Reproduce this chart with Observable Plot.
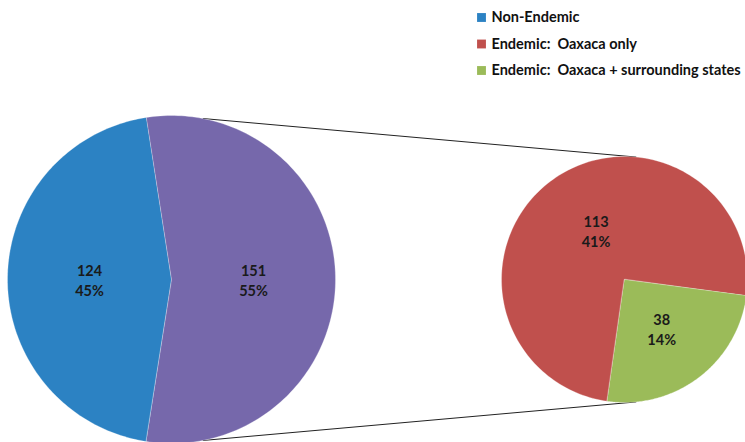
<!DOCTYPE html>
<html><head><meta charset="utf-8">
<script src="https://cdn.jsdelivr.net/npm/d3@7"></script>
<script src="https://cdn.jsdelivr.net/npm/@observablehq/plot@0.6"></script>
<style>html,body{margin:0;padding:0;background:#fff;} svg{display:block}</style>
</head><body><div id="chart"></div>
<script>
// ---- data ----
const mainCategories = ["Non-Endemic", "Endemic"];
const mainCounts = [124, 151];
const detailCategories = ["Endemic: Oaxaca only", "Endemic: Oaxaca + surrounding states"];
const detailCounts = [113, 38];
const legendKeys = ["Non-Endemic", "Endemic: Oaxaca only", "Endemic: Oaxaca + surrounding states"];
const legendLabels = ["Non-Endemic", "Endemic:  Oaxaca only", "Endemic:  Oaxaca + surrounding states"];

// ---- layout ----
const W = 745, H = 442;
const grandTotal = d3.sum(mainCounts);
const big = {cx: 171, cy: 279, r: 164, lf: 0.5};
const small = {cx: 624, cy: 279, r: 123, lf: 0.5};
const rad = d => d * Math.PI / 180;
const pt = (p, a, f = 1) => [p.cx + f * p.r * Math.sin(rad(a)), p.cy - f * p.r * Math.cos(rad(a))];

function slices(pie, cats, vals, start) {
  const tot = d3.sum(vals);
  let a = start;
  return cats.map((c, i) => {
    const span = vals[i] / tot * 360;
    const s = {key: c, value: vals[i], a0: a, a1: a + span, pie};
    a += span;
    return s;
  });
}
const blueSpan = mainCounts[0] / grandTotal * 360;
const bigSlices = slices(big, mainCategories, mainCounts, 270 - blueSpan / 2);
const smallSlices = slices(small, detailCategories, detailCounts, 188.1);
const all = [...bigSlices, ...smallSlices];

const polyPts = [];
all.forEach((s, si) => {
  const id = si;
  polyPts.push({id, key: s.key, x: s.pie.cx, y: s.pie.cy});
  const n = 160;
  for (let k = 0; k <= n; k++) {
    const [x, y] = pt(s.pie, s.a0 + (s.a1 - s.a0) * k / n);
    polyPts.push({id, key: s.key, x, y});
  }
});

// label angle: mid-angle, nudged for the large detail slice (as Excel does)
const labels = all.map(s => {
  let mid = (s.a0 + s.a1) / 2;
  let f = s.pie.lf;
  if (s.pie === small && s.a1 - s.a0 > 180) { mid += 7; f = 0.46; }
  const [x, y] = pt(s.pie, mid, f);
  return {x, y, text: `${s.value}\n${Math.round(s.value / grandTotal * 100)}%`};
});

const links = [
  {a: pt(big, 11), b: pt(small, 5.5)},
  {a: pt(big, 169), b: pt(small, 174.5)}
];

const legend = legendKeys.map((k, i) => ({key: k, label: legendLabels[i], y: 17 + i * 26.5}));

const chart = Plot.plot({
  width: W, height: H,
  margin: 0,
  x: {domain: [0, W], range: [0, W], axis: null},
  y: {domain: [0, H], range: [0, H], axis: null},
  color: {
    domain: ["Non-Endemic", "Endemic", "Endemic: Oaxaca only", "Endemic: Oaxaca + surrounding states"],
    range: ["#2C82C3", "#7668AB", "#C0504D", "#9BBB59"]
  },
  style: {background: "#fff", fontFamily: "Lato, 'Noto Sans', sans-serif"},
  marks: [
    Plot.link(links, {x1: d => d.a[0], y1: d => d.a[1], x2: d => d.b[0], y2: d => d.b[1], stroke: "#222", strokeWidth: 1}),
    Plot.line(polyPts, {x: "x", y: "y", z: "id", fill: "key", stroke: "#ffffff", strokeOpacity: 0.35, strokeWidth: 0.8, curve: "linear-closed"}),
    Plot.text(labels, {x: "x", y: "y", text: "text", fontSize: 14.5, fontWeight: "bold", lineHeight: 1.38, fill: "#1a1a1a"}),
    Plot.dot(legend, {x: 481, y: "y", symbol: "square", r: 5, fill: "key"}),
    Plot.text(legend, {x: 491, y: "y", text: "label", textAnchor: "start", fontSize: 14.5, fontWeight: "bold", fill: "#111"})
  ]
});
document.getElementById("chart").appendChild(chart);
</script>
</body></html>
